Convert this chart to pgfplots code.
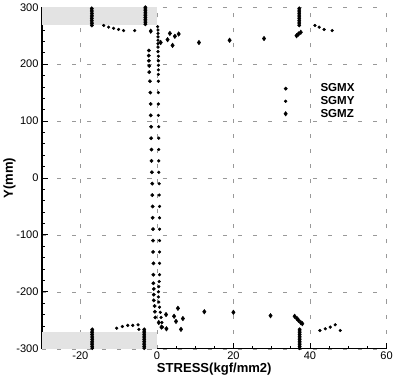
\documentclass[border=0pt]{standalone}
\usepackage{pgfplots}
\pgfplotsset{compat=1.18}
\usepackage{fontspec}
\setmainfont{Liberation Sans}
\pgfplotsset{mylegend/.style={legend image code/.code={\path[draw=none] (0cm,0cm) -- (1.45cm,0cm); \draw[##1, only marks] plot coordinates {(0.3cm,0cm)};}}}
\begin{document}
\begin{tikzpicture}
\begin{axis}[
  scale only axis,
  width=343pt, height=340pt,
  xmin=-30, xmax=60, ymin=-300, ymax=300,
  xtick={-20,0,20,40,60},
  ytick={-300,-200,-100,0,100,200,300},
  minor x tick num=3,
  minor y tick num=4,
  axis x line*=bottom, axis y line*=left,
  axis line style={line width=1.3pt},
  tick style={black, line width=0.8pt},
  major tick length=6pt, minor tick length=3pt,
  tick align=inside,
  grid=major,
  major grid style={black!40, line width=0.4pt, dash pattern=on 4pt off 11pt},
  /pgf/number format/assume math mode=true,
  ticklabel style={font=\fontsize{11}{13}\selectfont},
  xlabel={STRESS(kgf/mm2)},
  ylabel={Y(mm)},
  xlabel style={font=\bfseries\fontsize{13}{15}\selectfont, yshift=4pt},
  ylabel style={font=\bfseries\fontsize{13}{15}\selectfont, yshift=-6pt},
  legend style={at={(0.673,0.788)}, anchor=north west, draw=none, fill=none,
    font=\bfseries\fontsize{11.5}{13}\selectfont, row sep=-1pt},
  legend cell align=left,
]
% shaded regions
\addplot[draw=none, fill=gray!22, forget plot] coordinates {(-30,268) (0,268) (0,300) (-30,300)} -- cycle;
\addplot[draw=none, fill=gray!22, forget plot] coordinates {(-30,-300) (0,-300) (0,-271) (-30,-271)} -- cycle;

% SGMX
\addplot[only marks, mylegend, mark=*, mark size=1.7pt, mark options={black, fill=black}] coordinates {
(-2.1,224) (-2.1,215) (-2.1,206) (-2.0,197) (-2.0,186) (-1.8,170) (-1.7,150) (-1.6,130) (-1.6,110)
(-1.5,90) (-1.5,70) (-1.4,50) (-1.4,30) (-1.3,10) (-1.2,-10) (-1.2,-30) (-1.1,-50) (-1.1,-70)
(-1.0,-90) (-1.0,-110) (-1.0,-130) (-0.9,-150) (-0.9,-170) (-0.9,-185) (-0.8,-195) (-0.8,-205)
(-0.8,-215) (-0.6,-225) (-0.5,-235) (-0.4,-245)
(-17,268) (-17,271) (-17,274) (-17,277) (-17,280) (-17,283) (-17,286) (-17,289) (-17,292) (-17,295) (-17,298)
(-3,270) (-3,273) (-3,276) (-3,279) (-3,282) (-3,285) (-3,288) (-3,291) (-3,294) (-3,297) (-3,300)
(37.2,268) (37.2,271) (37.2,274) (37.2,277) (37.2,280) (37.2,283) (37.2,286) (37.2,289) (37.2,292) (37.2,295) (37.2,298)
(-16.9,-266) (-16.9,-269) (-16.9,-272) (-16.9,-275) (-16.9,-278) (-16.9,-281) (-16.9,-284) (-16.9,-287) (-16.9,-290) (-16.9,-293) (-16.9,-296) (-16.9,-299)
(-3.3,-266) (-3.3,-269) (-3.3,-272) (-3.3,-275) (-3.3,-278) (-3.3,-281) (-3.3,-284) (-3.3,-287) (-3.3,-290) (-3.3,-293) (-3.3,-296) (-3.3,-299)
(37.3,-266) (37.3,-269) (37.3,-272) (37.3,-275) (37.3,-278) (37.3,-281) (37.3,-284) (37.3,-287) (37.3,-290) (37.3,-293) (37.3,-296) (37.3,-299)
};
\addlegendentry{SGMX}

% SGMY
\addplot[only marks, mylegend, mark=*, mark size=1.4pt, mark options={black, fill=black}] coordinates {
(0.2,266) (0.3,260) (0.3,254) (0.3,248) (0.3,242) (0.3,236) (0.3,230) (0.3,222) (0.4,214) (0.4,206)
(0.4,198) (0.4,190) (0.4,182) (0.4,170) (0.4,150) (0.4,130) (0.4,110) (0.5,90) (0.5,70) (0.5,50)
(0.5,30) (0.5,10) (0.6,-10) (0.6,-30) (0.7,-50) (0.7,-70) (0.7,-90) (0.7,-110) (0.7,-130) (0.7,-150)
(0.7,-170) (0.6,-182) (0.5,-191) (0.4,-200) (0.4,-209) (0.5,-218) (0.7,-227) (0.9,-236) (1.1,-245)
(1.3,-254) (1.5,-262)
(-13.9,268) (-12.6,265) (-11.3,263) (-10,261) (-8.7,259) (-5.8,259)
(41.3,268) (42.4,265) (43.7,261) (45.8,259)
(-10.5,-264) (-9,-261) (-7.6,-259) (-6.3,-259) (-4.9,-258) (-4.7,-266)
(42.6,-268) (44,-265) (45.3,-262) (46.6,-258) (47.9,-268)
};
\addlegendentry{SGMY}

% SGMZ
\addplot[only marks, mylegend, mark=diamond*, mark size=2.3pt, mark options={black, fill=black}] coordinates {
(-1.6,258) (1,238) (2.8,243) (3.4,254) (4.7,249) (5.7,253) (4.1,233) (11,238) (19,242) (28,245)
(36.5,250) (37,253) (37.6,256)
(5.5,-229) (2.4,-240) (4.5,-243) (6.8,-247) (5,-252) (0.5,-254) (6.3,-266) (1.2,-262) (2.5,-265)
(12.4,-235) (20,-236) (29.7,-242) (36,-243) (36.6,-247) (37,-250) (37.6,-254) (38,-256)
};
\addlegendentry{SGMZ}
\end{axis}
\end{tikzpicture}
\end{document}
